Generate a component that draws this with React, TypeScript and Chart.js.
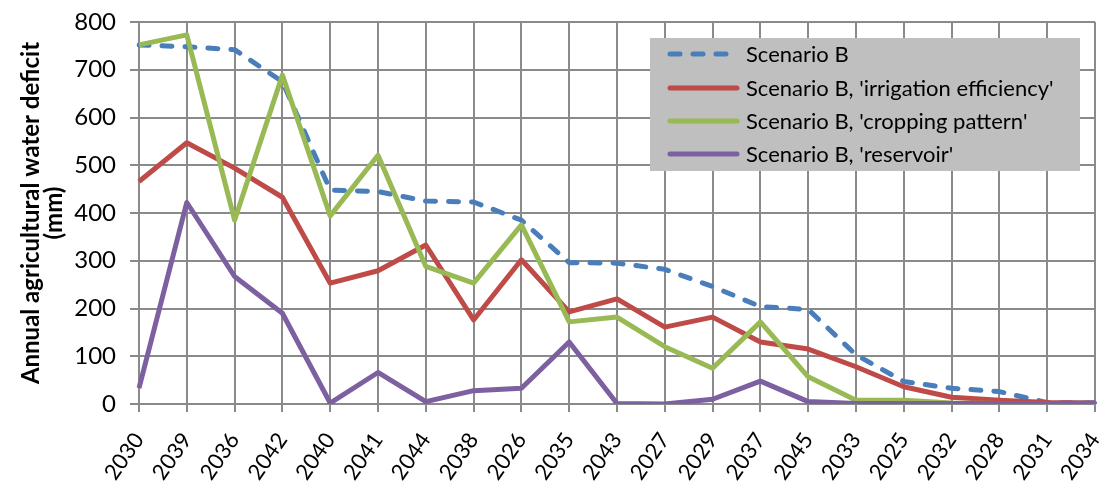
import React, { useEffect, useRef } from "react";
import { Chart, registerables } from "chart.js";

Chart.register(...registerables);

const categories = ["2030", "2039", "2036", "2042", "2040", "2041", "2044", "2038", "2026", "2035", "2043", "2027", "2029", "2037", "2045", "2033", "2025", "2032", "2028", "2031", "2034"];
const scenarioB = [752, 748, 742, 675, 448, 445, 425, 423, 385, 296, 295, 282, 246, 204, 198, 103, 47, 33, 26, 3, 2];
const irrigationEfficiency = [466, 547, 494, 433, 253, 279, 333, 176, 302, 193, 220, 161, 182, 130, 115, 78, 36, 14, 8, 3, 2];
const croppingPattern = [752, 773, 385, 689, 394, 521, 288, 253, 375, 172, 182, 120, 75, 172, 57, 8, 8, 2, 1, 1, 1];
const reservoir = [33, 422, 267, 190, 2, 66, 5, 28, 33, 130, 1, 0, 10, 48, 5, 1, 1, 1, 1, 1, 2];
const seriesLabels = ["Scenario B", "Scenario B, 'irrigation efficiency'", "Scenario B, 'cropping pattern'", "Scenario B, 'reservoir'"];
const seriesColors = ["#4a7ebb", "#be4b48", "#98b954", "#7d60a0"];
const yTitle = ["Annual agricultural water deficit", "(mm)"];

const FONT = "Lato, 'Open Sans', sans-serif";

const legendPlugin = {
  id: "boxLegend",
  afterDraw(chart: any) {
    const ctx = chart.ctx;
    const x0 = 650, y0 = 38, w = 430, h = 133;
    ctx.save();
    ctx.fillStyle = "#bfbfbf";
    ctx.fillRect(x0, y0, w, h);
    const rows = [54, 88, 121, 154];
    chart.data.datasets.forEach((ds: any, i: number) => {
      const y = rows[i];
      ctx.beginPath();
      ctx.strokeStyle = ds.borderColor;
      ctx.lineWidth = 5;
      ctx.lineCap = "round";
      ctx.setLineDash(ds.borderDash || []);
      ctx.moveTo(670, y);
      ctx.lineTo(737, y);
      ctx.stroke();
      ctx.setLineDash([]);
      ctx.fillStyle = "#000";
      ctx.font = `22px ${FONT}`;
      ctx.textBaseline = "middle";
      ctx.textAlign = "left";
      ctx.fillText(ds.label, 746, y + 1);
    });
    ctx.restore();
  },
};

export default function App() {
  const ref = useRef<HTMLCanvasElement>(null);
  useEffect(() => {
    if (!ref.current) return;
    const data = [scenarioB, irrigationEfficiency, croppingPattern, reservoir];
    const chart = new Chart(ref.current, {
      type: "line",
      data: {
        labels: categories,
        datasets: data.map((d, i) => ({
          label: seriesLabels[i],
          data: d,
          borderColor: seriesColors[i],
          backgroundColor: seriesColors[i],
          borderWidth: 5,
          pointRadius: 0,
          tension: 0,
          borderCapStyle: i === 0 ? "round" : "butt",
          borderJoinStyle: "round",
          borderDash: i === 0 ? [10, 13] : [],
          order: 3 - i,
        })),
      },
      options: {
        responsive: false,
        animation: false,
        devicePixelRatio: 1,
        layout: { padding: { left: 0, top: 22, right: 7, bottom: 0 } },
        plugins: { legend: { display: false }, tooltip: { enabled: false } },
        scales: {
          x: {
            type: "category",
            offset: false,
            grid: { color: "#8a8a8a", lineWidth: 2, tickLength: 8 },
            border: { color: "#8a8a8a", width: 2 },
            ticks: {
              color: "#000",
              font: { family: FONT, size: 22 },
              minRotation: 55,
              maxRotation: 55,
              padding: 16,
              autoSkip: false,
            },
            afterFit: (s: any) => {
              s.height = 81;
              s.paddingLeft = 0;
              s.paddingRight = 0;
            },
          },
          y: {
            min: 0,
            max: 800,
            ticks: { stepSize: 100, color: "#000", font: { family: FONT, size: 24 }, padding: 14 },
            grid: { color: "#8a8a8a", lineWidth: 2, tickLength: 9 },
            border: { color: "#8a8a8a", width: 2 },
            title: {
              display: true,
              text: yTitle,
              color: "#000",
              font: { family: FONT, size: 24, weight: "bold", lineHeight: 0.95 },
              padding: { top: 20, bottom: 0 },
            },
            afterFit: (s: any) => {
              s.width = 139;
              s.paddingTop = 0;
              s.paddingBottom = 0;
            },
          },
        },
      },
      plugins: [legendPlugin],
    } as any);
    return () => chart.destroy();
  }, []);
  return (
    <div style={{ position: "fixed", left: 0, top: 0, width: 1102, height: 485, background: "#fff" }}>
      <canvas ref={ref} width={1102} height={485} style={{ display: "block" }} />
    </div>
  );
}
